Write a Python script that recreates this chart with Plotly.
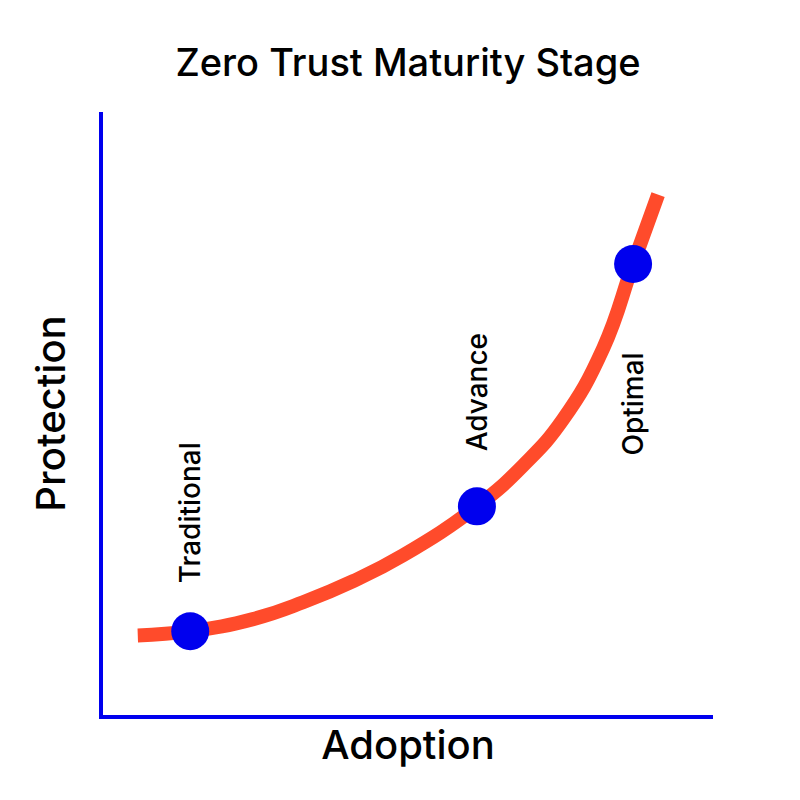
import plotly.graph_objects as go

# curve (adoption vs protection, arbitrary 0-100 scale)
curve_x = [5.7, 14.3, 24.6, 32.8, 41.0, 49.2, 61.3, 68.9, 75.4, 82.0, 86.9, 91.0]
curve_y = [13.2, 13.9, 15.9, 18.7, 22.2, 26.5, 34.6, 41.4, 49.0, 60.8, 74.8, 86.3]

stages = ['Traditional', 'Advance', 'Optimal']
stage_x = [14.3, 61.3, 86.9]
stage_y = [13.9, 34.6, 74.8]
label_y = [33.5, 53.5, 51.5]

fig = go.Figure()
fig.add_trace(go.Scatter(x=curve_x, y=curve_y, mode='lines',
                         line=dict(color='#ff4b2b', width=14, shape='spline', smoothing=1.3),
                         hoverinfo='skip'))
fig.add_trace(go.Scatter(x=stage_x, y=stage_y, mode='markers',
                         marker=dict(color='#0000ee', size=38)))

for name, x, y in zip(stages, stage_x, label_y):
    fig.add_annotation(x=x, y=y, text=name, showarrow=False, textangle=-90,
                       font=dict(size=28, color='black', weight=500))

fig.update_layout(
    width=800, height=800,
    title=dict(text='Zero Trust Maturity Stage', x=0.5, y=0.948, xanchor='center',
               font=dict(size=38, color='black', weight=500)),
    font=dict(family='Inter, sans-serif'),
    showlegend=False,
    plot_bgcolor='white', paper_bgcolor='white',
    margin=dict(l=95, r=95, t=104, b=93),
    xaxis=dict(range=[0, 100], showgrid=False, zeroline=False, showticklabels=False,
               showline=True, linecolor='#0000ee', linewidth=4,
               title=dict(text='Adoption', font=dict(size=40, color='black', weight=500), standoff=14)),
    yaxis=dict(range=[0, 100], showgrid=False, zeroline=False, showticklabels=False,
               showline=True, linecolor='#0000ee', linewidth=4,
               title=dict(text='Protection', font=dict(size=40, color='black', weight=500), standoff=22)),
)

fig.write_html("out.html")
